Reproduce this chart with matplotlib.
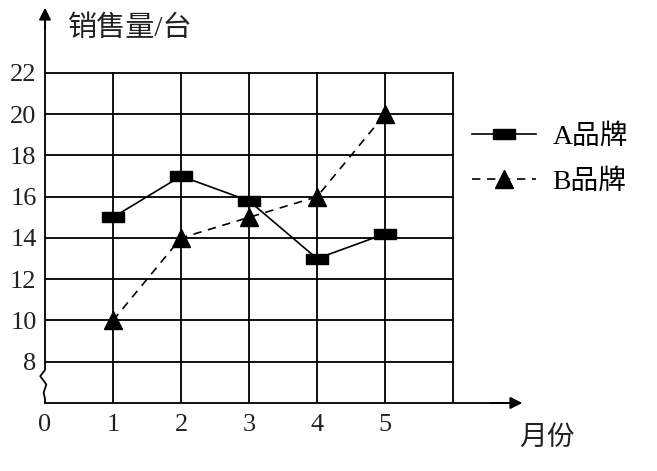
import matplotlib.pyplot as plt
from matplotlib.path import Path

months = [1, 2, 3, 4, 5]
brand_a = [15, 17, 15.8, 13, 14.2]
brand_b = [10, 14, 15, 16, 20]
y_ticks = [8, 10, 12, 14, 16, 18, 20, 22]
x_ticks = [0, 1, 2, 3, 4, 5]

fonts = ['Liberation Serif', 'Noto Sans CJK SC']
plt.rcParams['font.family'] = fonts

fig = plt.figure(figsize=(6.57, 4.71), dpi=100)
ax = fig.add_axes([0.0685, 0.1444, 0.7349, 0.8408])
ax.set_xlim(0, 7.1)
ax.set_ylim(6, 25.2)
for s in ax.spines.values():
    s.set_visible(False)

# grid
for x in range(1, 7):
    ax.plot([x, x], [6, 22], color='black', lw=1.3, zorder=1)
for y in y_ticks:
    ax.plot([0, 6], [y, y], color='black', lw=1.3, zorder=1)

# y axis with break
ax.plot([0, 0, -0.07, 0.02, -0.02, 0, 0],
        [25.0, 7.6, 7.3, 6.9, 6.5, 6.2, 6.0], color='black', lw=1.3, clip_on=False)
ax.annotate('', xy=(0, 25.3), xytext=(0, 24.0),
            arrowprops=dict(arrowstyle='-|>', color='black', lw=1.3,
                            mutation_scale=18), annotation_clip=False)
# x axis
ax.plot([0, 6.9], [6, 6], color='black', lw=1.3, clip_on=False)
ax.annotate('', xy=(7.06, 6), xytext=(6.5, 6),
            arrowprops=dict(arrowstyle='-|>', color='black', lw=1.3,
                            mutation_scale=18), annotation_clip=False)

rect = Path([(-1.1, -0.5), (1.1, -0.5), (1.1, 0.5), (-1.1, 0.5), (-1.1, -0.5)])
ax.plot(months, brand_a, color='black', lw=1.2, marker=rect, markersize=16,
        label='A品牌', zorder=3)
ax.plot(months, brand_b, color='black', lw=1.2, ls=(0, (5, 4)), marker='^',
        markersize=13, label='B品牌', zorder=3)

ax.set_xticks(x_ticks)
ax.set_yticks(y_ticks)
ax.tick_params(length=0, labelsize=19, colors='#222222', pad=6)
ax.tick_params(axis='x', pad=8)

fig.text(0.103, 0.94, '销售量/台', fontsize=21, va='center', ha='left',
         family=fonts, color='#222222')
fig.text(0.79, 0.07, '月份', fontsize=20, va='center', ha='left',
         family=fonts, color='#222222')

ax.legend(loc='center left', bbox_to_anchor=(0.884, 0.615), frameon=False,
          fontsize=20, handlelength=2.3, labelspacing=0.7, handletextpad=0.6,
          borderaxespad=0, borderpad=0)

fig.savefig('out.png', dpi=100)
